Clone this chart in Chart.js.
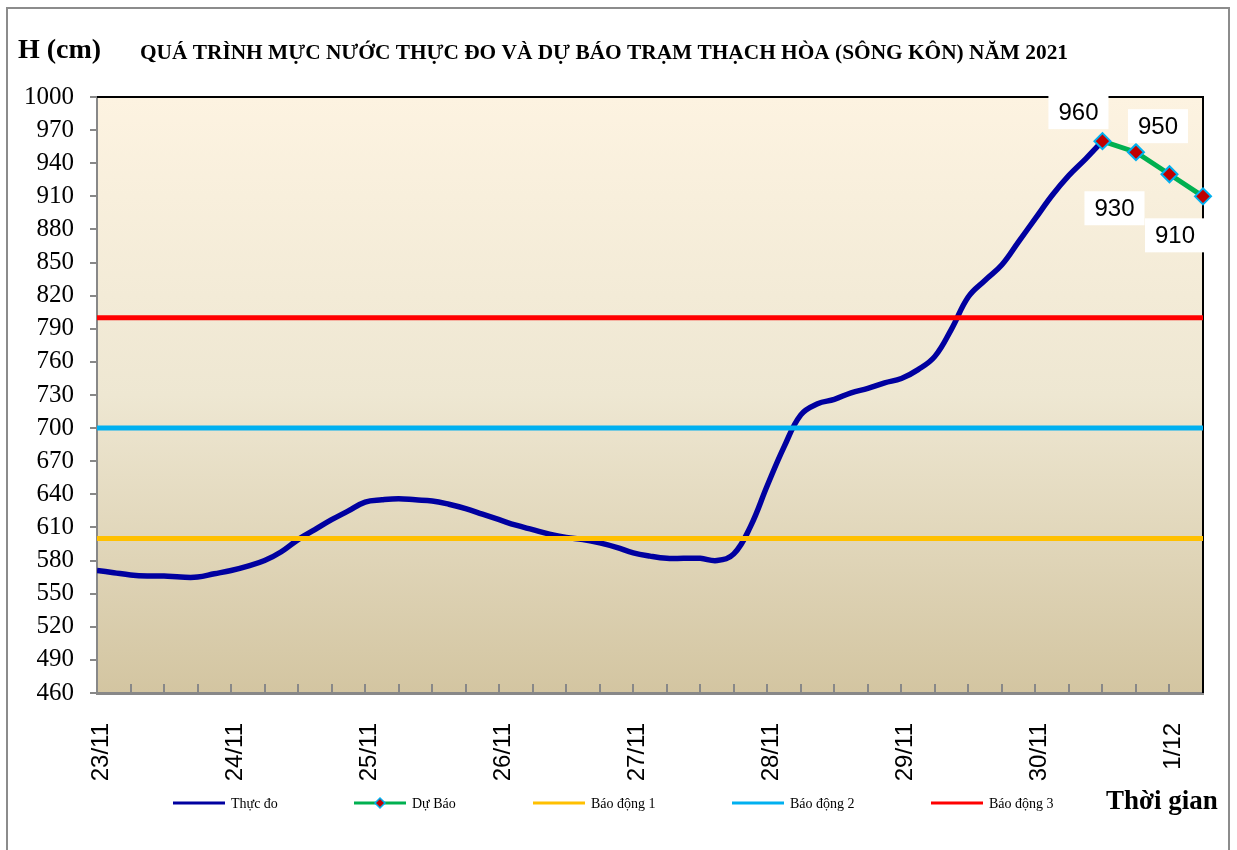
<!DOCTYPE html>
<html>
<head>
<meta charset="utf-8">
<script src="https://cdn.jsdelivr.net/npm/chart.js@4.4.0/dist/chart.umd.min.js"></script>
<style>
  body { margin: 0; background: #fff; }
  #wrap { position: relative; width: 1237px; height: 850px; }
</style>
</head>
<body>
<div id="wrap"><canvas id="js--chart--muc-nuoc"></canvas></div>
<script>
// nhan truc thoi gian (moi nhan = 24 gio)
const dayLabels = ["23/11", "24/11", "25/11", "26/11", "27/11", "28/11", "29/11", "30/11", "1/12"];

// muc nuoc thuc do, 3 gio mot gia tri, bat dau 23/11
const obsStepHours = 3;
const thucDo = [
  571, 569, 567, 566, 566, 565, 565, 568, 571, 575,
  580, 588, 599, 608, 617, 625, 633, 635, 636, 635,
  634, 631, 627, 622, 617, 612, 608, 604, 601, 599,
  596, 592, 587, 584, 582, 582, 582, 580, 586, 611,
  648, 683, 712, 722, 726, 732, 736, 741, 745, 753,
  765, 790, 819, 834, 848, 869, 890, 911, 929, 944,
  960
];

// du bao
const duBaoHours = [180, 186, 192, 198];
const duBao = [960, 950, 930, 910];

// muc bao dong
const baoDong1 = 600;
const baoDong2 = 700;
const baoDong3 = 800;

const hourMin = 0;
const hourMax = 198;

const thucDoPoints = thucDo.map((v, i) => ({ x: i * obsStepHours, y: v }));
const duBaoPoints = duBao.map((v, i) => ({ x: duBaoHours[i], y: v }));
function flatLine(level) {
  return [{ x: hourMin, y: level }, { x: hourMax, y: level }];
}

const serif = '"Liberation Serif", "Times New Roman", serif';
const sans = '"Liberation Sans", Arial, sans-serif';

// nen vung ve + khung + chu
const chartDecor = {
  id: "chartDecor",
  beforeDraw(chart) {
    const ctx = chart.ctx;
    const a = chart.chartArea;
    const g = ctx.createLinearGradient(0, a.top, 0, a.bottom);
    g.addColorStop(0, "#FDF3E1");
    g.addColorStop(0.5, "#EEE7D2");
    g.addColorStop(1, "#D3C5A1");
    ctx.save();
    ctx.fillStyle = g;
    ctx.fillRect(a.left, a.top, a.right - a.left, a.bottom - a.top);
    ctx.restore();
  },
  beforeDatasetsDraw(chart) {
    const ctx = chart.ctx;
    const a = chart.chartArea;
    const xs = chart.scales.x;
    ctx.save();
    // vach chia truc x huong vao trong
    ctx.strokeStyle = "#888";
    ctx.lineWidth = 2;
    xs.ticks.forEach(t => {
      const px = Math.round(xs.getPixelForValue(t.value));
      ctx.beginPath();
      ctx.moveTo(px, a.bottom);
      ctx.lineTo(px, a.bottom - 9);
      ctx.stroke();
    });
    // khung tren va phai
    ctx.strokeStyle = "#000";
    ctx.lineWidth = 2;
    ctx.beginPath();
    ctx.moveTo(a.left, a.top);
    ctx.lineTo(a.right, a.top);
    ctx.lineTo(a.right, a.bottom);
    ctx.stroke();
    ctx.restore();
  },
  afterDraw(chart) {
    const ctx = chart.ctx;
    ctx.save();

    // khung ngoai
    ctx.strokeStyle = "#8c8c8c";
    ctx.lineWidth = 2;
    ctx.strokeRect(7, 8, 1222, 900);

    // nhan gia tri du bao
    const meta = chart.getDatasetMeta(1);
    const offsets = [[-24, -29], [22, -26], [-55, 34], [-28, 39]];
    ctx.font = "24px " + sans;
    ctx.textAlign = "center";
    ctx.textBaseline = "middle";
    meta.data.forEach((pt, i) => {
      const txt = String(duBao[i]);
      const cx = pt.x + offsets[i][0];
      const cy = pt.y + offsets[i][1];
      const w = ctx.measureText(txt).width + 20;
      ctx.fillStyle = "#fff";
      ctx.fillRect(cx - w / 2, cy - 17, w, 34);
      ctx.fillStyle = "#000";
      ctx.fillText(txt, cx, cy + 1);
    });

    // tieu de
    ctx.textAlign = "left";
    ctx.fillStyle = "#000";
    ctx.font = "bold 28px " + serif;
    ctx.fillText("H (cm)", 18, 51);
    const title = "QUÁ TRÌNH MỰC NƯỚC THỰC ĐO VÀ DỰ BÁO TRẠM THẠCH HÒA (SÔNG KÔN) NĂM 2021";
    ctx.font = "bold 20px " + serif;
    const tw = ctx.measureText(title).width;
    ctx.save();
    ctx.translate(140, 54);
    ctx.scale(928 / tw, 1);
    ctx.fillText(title, 0, 0);
    ctx.restore();

    // chu giai
    const legendY = 803;
    const items = [
      { x: 173, ds: 0 },
      { x: 354, ds: 1 },
      { x: 533, ds: 2 },
      { x: 732, ds: 3 },
      { x: 931, ds: 4 }
    ];
    ctx.font = "14px " + serif;
    items.forEach(it => {
      const ds = chart.data.datasets[it.ds];
      ctx.strokeStyle = ds.borderColor;
      ctx.lineWidth = 3;
      ctx.beginPath();
      ctx.moveTo(it.x, legendY);
      ctx.lineTo(it.x + 52, legendY);
      ctx.stroke();
      if (it.ds === 1) {
        const mx = it.x + 26;
        ctx.beginPath();
        ctx.moveTo(mx, legendY - 5);
        ctx.lineTo(mx + 5, legendY);
        ctx.lineTo(mx, legendY + 5);
        ctx.lineTo(mx - 5, legendY);
        ctx.closePath();
        ctx.fillStyle = ds.pointBackgroundColor;
        ctx.fill();
        ctx.strokeStyle = ds.pointBorderColor;
        ctx.lineWidth = 1.5;
        ctx.stroke();
      }
      ctx.fillStyle = "#000";
      ctx.fillText(ds.label, it.x + 58, legendY + 1);
    });

    ctx.font = "bold 27px " + serif;
    ctx.fillText("Thời gian", 1106, 802);
    ctx.restore();
  }
};

new Chart(document.getElementById("js--chart--muc-nuoc"), {
  type: "line",
  data: {
    datasets: [
      {
        label: "Thực đo",
        data: thucDoPoints,
        borderColor: "#0000A0",
        borderWidth: 5.5,
        pointRadius: 0,
        tension: 0.4,
        order: 2
      },
      {
        label: "Dự Báo",
        data: duBaoPoints,
        borderColor: "#00B050",
        borderWidth: 5,
        tension: 0,
        pointStyle: "rectRot",
        pointRadius: 8,
        pointBackgroundColor: "#C00000",
        pointBorderColor: "#00B0F0",
        pointBorderWidth: 2,
        clip: false,
        order: 0
      },
      {
        label: "Báo động 1",
        data: flatLine(baoDong1),
        borderColor: "#FFC000",
        borderWidth: 5,
        pointRadius: 0,
        order: 1
      },
      {
        label: "Báo động 2",
        data: flatLine(baoDong2),
        borderColor: "#00B0F0",
        borderWidth: 5,
        pointRadius: 0,
        order: 1
      },
      {
        label: "Báo động 3",
        data: flatLine(baoDong3),
        borderColor: "#FF0000",
        borderWidth: 5,
        pointRadius: 0,
        order: 1
      }
    ]
  },
  options: {
    responsive: true,
    maintainAspectRatio: false,
    animation: false,
    layout: { padding: { left: 0, right: 34, top: 97, bottom: 0 } },
    plugins: {
      legend: { display: false },
      tooltip: { enabled: false }
    },
    scales: {
      x: {
        type: "linear",
        min: hourMin,
        max: hourMax,
        afterFit(scale) {
          scale.height = 157;
          scale.paddingLeft = 0;
          scale.paddingRight = 0;
        },
        grid: { display: false, drawTicks: false },
        border: { color: "#888", width: 3 },
        ticks: {
          stepSize: 6,
          autoSkip: false,
          maxRotation: 90,
          minRotation: 90,
          padding: 30,
          labelOffset: 4,
          color: "#000",
          font: { family: sans, size: 24 },
          callback: v => (v % 24 === 0 ? dayLabels[v / 24] : "")
        }
      },
      y: {
        min: 460,
        max: 1000,
        afterFit(scale) {
          scale.width = 97;
          scale.paddingTop = 0;
          scale.paddingBottom = 0;
        },
        grid: { drawOnChartArea: false, color: "#888", lineWidth: 2, tickLength: 7 },
        border: { color: "#888", width: 2 },
        ticks: {
          stepSize: 30,
          autoSkip: false,
          padding: 16,
          color: "#000",
          font: { family: serif, size: 25 },
          callback: v => String(v)
        }
      }
    }
  },
  plugins: [chartDecor]
});
</script>
</body>
</html>
